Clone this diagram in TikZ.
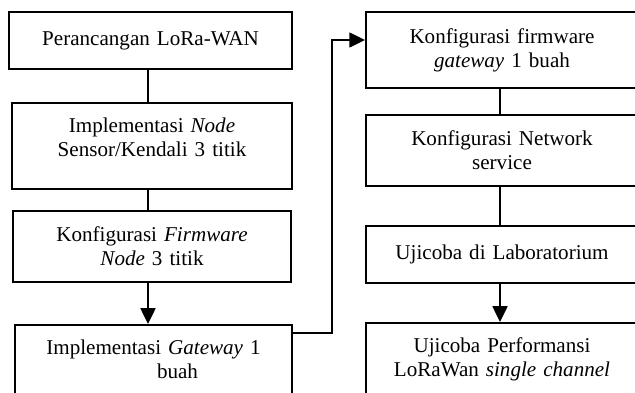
\documentclass[tikz,border=0pt]{standalone}
\usepackage{fontspec}
\setmainfont{Liberation Serif}
\usepackage{tikz}
\usetikzlibrary{arrows.meta}
\usetikzlibrary{calc}
\tikzset{
	flowbox/.style={rectangle, draw, line width=1.1pt, align=center, text width=4.8cm, inner sep=2pt, font=\fontsize{12}{13.5}\selectfont},
	arr/.style={-{Triangle[length=9pt, width=8.5pt]}, line width=1.1pt},
	lin/.style={line width=1.1pt}
}

\begin{document}
\begin{tikzpicture}[x=0.02cm, y=-0.02cm]
		\useasboundingbox (0,0) rectangle (635,392);
		\clip (0,0) rectangle (635,392);
		\coordinate (leftx) at (148,0);
		\coordinate (rightx) at (500,0);
		
		% kolom kiri
		\node[flowbox, minimum width=5.66cm, minimum height=1.14cm] at (150.5,40.5) (rancang) {Perancangan LoRa-WAN};
		\node[flowbox, minimum width=5.6cm, minimum height=1.72cm] at (152,146) (nodeimpl) {Implementasi \textit{Node}\\ Sensor/Kendali 3 titik\rule[-10pt]{0pt}{10pt}};
		\node[flowbox, minimum width=5.56cm, minimum height=1.42cm] at (152,246.5) (nodefw) {Konfigurasi \textit{Firmware}\\ \textit{Node} 3 titik};
		\node[flowbox, minimum width=5.54cm, minimum height=1.38cm] at (153.5,359.5) (gwimpl) {Implementasi \textit{Gateway} 1\\ \hspace*{0.96cm}buah};
		
		% kolom kanan
		\node[flowbox, minimum width=5.44cm, minimum height=1.52cm] at (502,50) (gwfw) {Konfigurasi firmware\\ \textit{gateway} 1 buah};
		\node[flowbox, minimum width=5.44cm, minimum height=1.42cm] at (502,150.5) (netsrv) {Konfigurasi Network\\ service};
		\node[flowbox, minimum width=5.44cm, minimum height=1.14cm] at (502,254.5) (lab) {Ujicoba di Laboratorium};
		\node[flowbox, minimum width=5.44cm, minimum height=1.44cm] at (502,359) (perf) {Ujicoba Performansi\\ LoRaWan \textit{single channel}};
		
		\draw[lin] (rancang.south -| leftx) -- (nodeimpl.north -| leftx);
		\draw[lin] (nodeimpl.south -| leftx) -- (nodefw.north -| leftx);
		\draw[arr] (nodefw.south -| leftx) -- (gwimpl.north -| leftx);
		\draw[arr] ($(gwimpl.north east)+(0,9)$) -- ++(39,0) |- ($(gwfw.west)+(0,-10)$);
		\draw[lin] (gwfw.south -| rightx) -- (netsrv.north -| rightx);
		\draw[lin] (netsrv.south -| rightx) -- (lab.north -| rightx);
		\draw[arr] (lab.south -| rightx) -- (perf.north -| rightx);
		
	\end{tikzpicture}
\end{document}
